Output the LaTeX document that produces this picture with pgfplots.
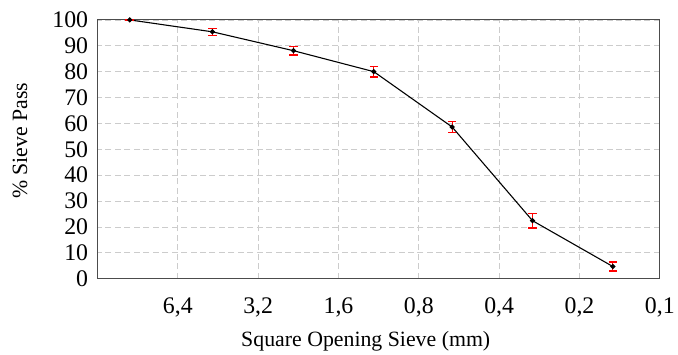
\documentclass[border=0pt]{standalone}
\usepackage{fontspec}
\setmainfont{Liberation Serif}
\usepackage{pgfplots}
\pgfplotsset{compat=1.18}
\begin{document}
\begin{tikzpicture}
\begin{axis}[
  width=565bp, height=260bp, scale only axis,
  xmode=log, log basis x=2, x dir=reverse,
  xmin=0.1, xmax=12.8, ymin=0, ymax=100,
  ytick={0,10,...,100},
  xtick={6.4,3.2,1.6,0.8,0.4,0.2,0.1},
  xticklabels={{6,4},{3,2},{1,6},{0,8},{0,4},{0,2},{0,1}},
  /pgf/number format/assume math mode=true,
  grid=major,
  major grid style={dash pattern=on 6bp off 3.5bp, color=gray!40, line width=0.8pt},
  major tick length=0pt,
  axis line style={draw=gray!60!black, line width=0.9pt},
  tick label style={font=\fontsize{24}{28}\selectfont},
  label style={font=\fontsize{22}{26}\selectfont, inner sep=0pt},
  xticklabel style={yshift=-16bp},
  yticklabel style={xshift=-6bp},
  xlabel={Square Opening Sieve (mm)},
  ylabel={\% Sieve Pass},
  xlabel style={at={(axis description cs:0.5,0)}, anchor=north, yshift=-53bp, xshift=-13bp},
  ylabel style={at={(current axis.west)}, anchor=center, yshift=78bp, xshift=8.5bp},
]
\addplot[black, line width=1.1pt, mark=*, mark size=2pt,
  error bars/.cd, y dir=both, y explicit,
  error bar style={red, line width=1.3pt},
  error mark options={red, rotate=90, mark size=4.3pt, line width=1.3pt}]
  table[x=x, y=y, y error=e] {
x y e
9.7 100 0
4.75 95.4 1.3
2.36 88.1 1.7
1.18 80.0 2.1
0.6 58.6 2.2
0.3 22.4 2.8
0.15 4.7 1.7
};
\end{axis}
\path ([yshift=20bp]current axis.north) ([yshift=-76bp]current axis.south)
      ([xshift=-98bp]current axis.west) ([xshift=15bp]current axis.east);
\end{tikzpicture}
\end{document}
